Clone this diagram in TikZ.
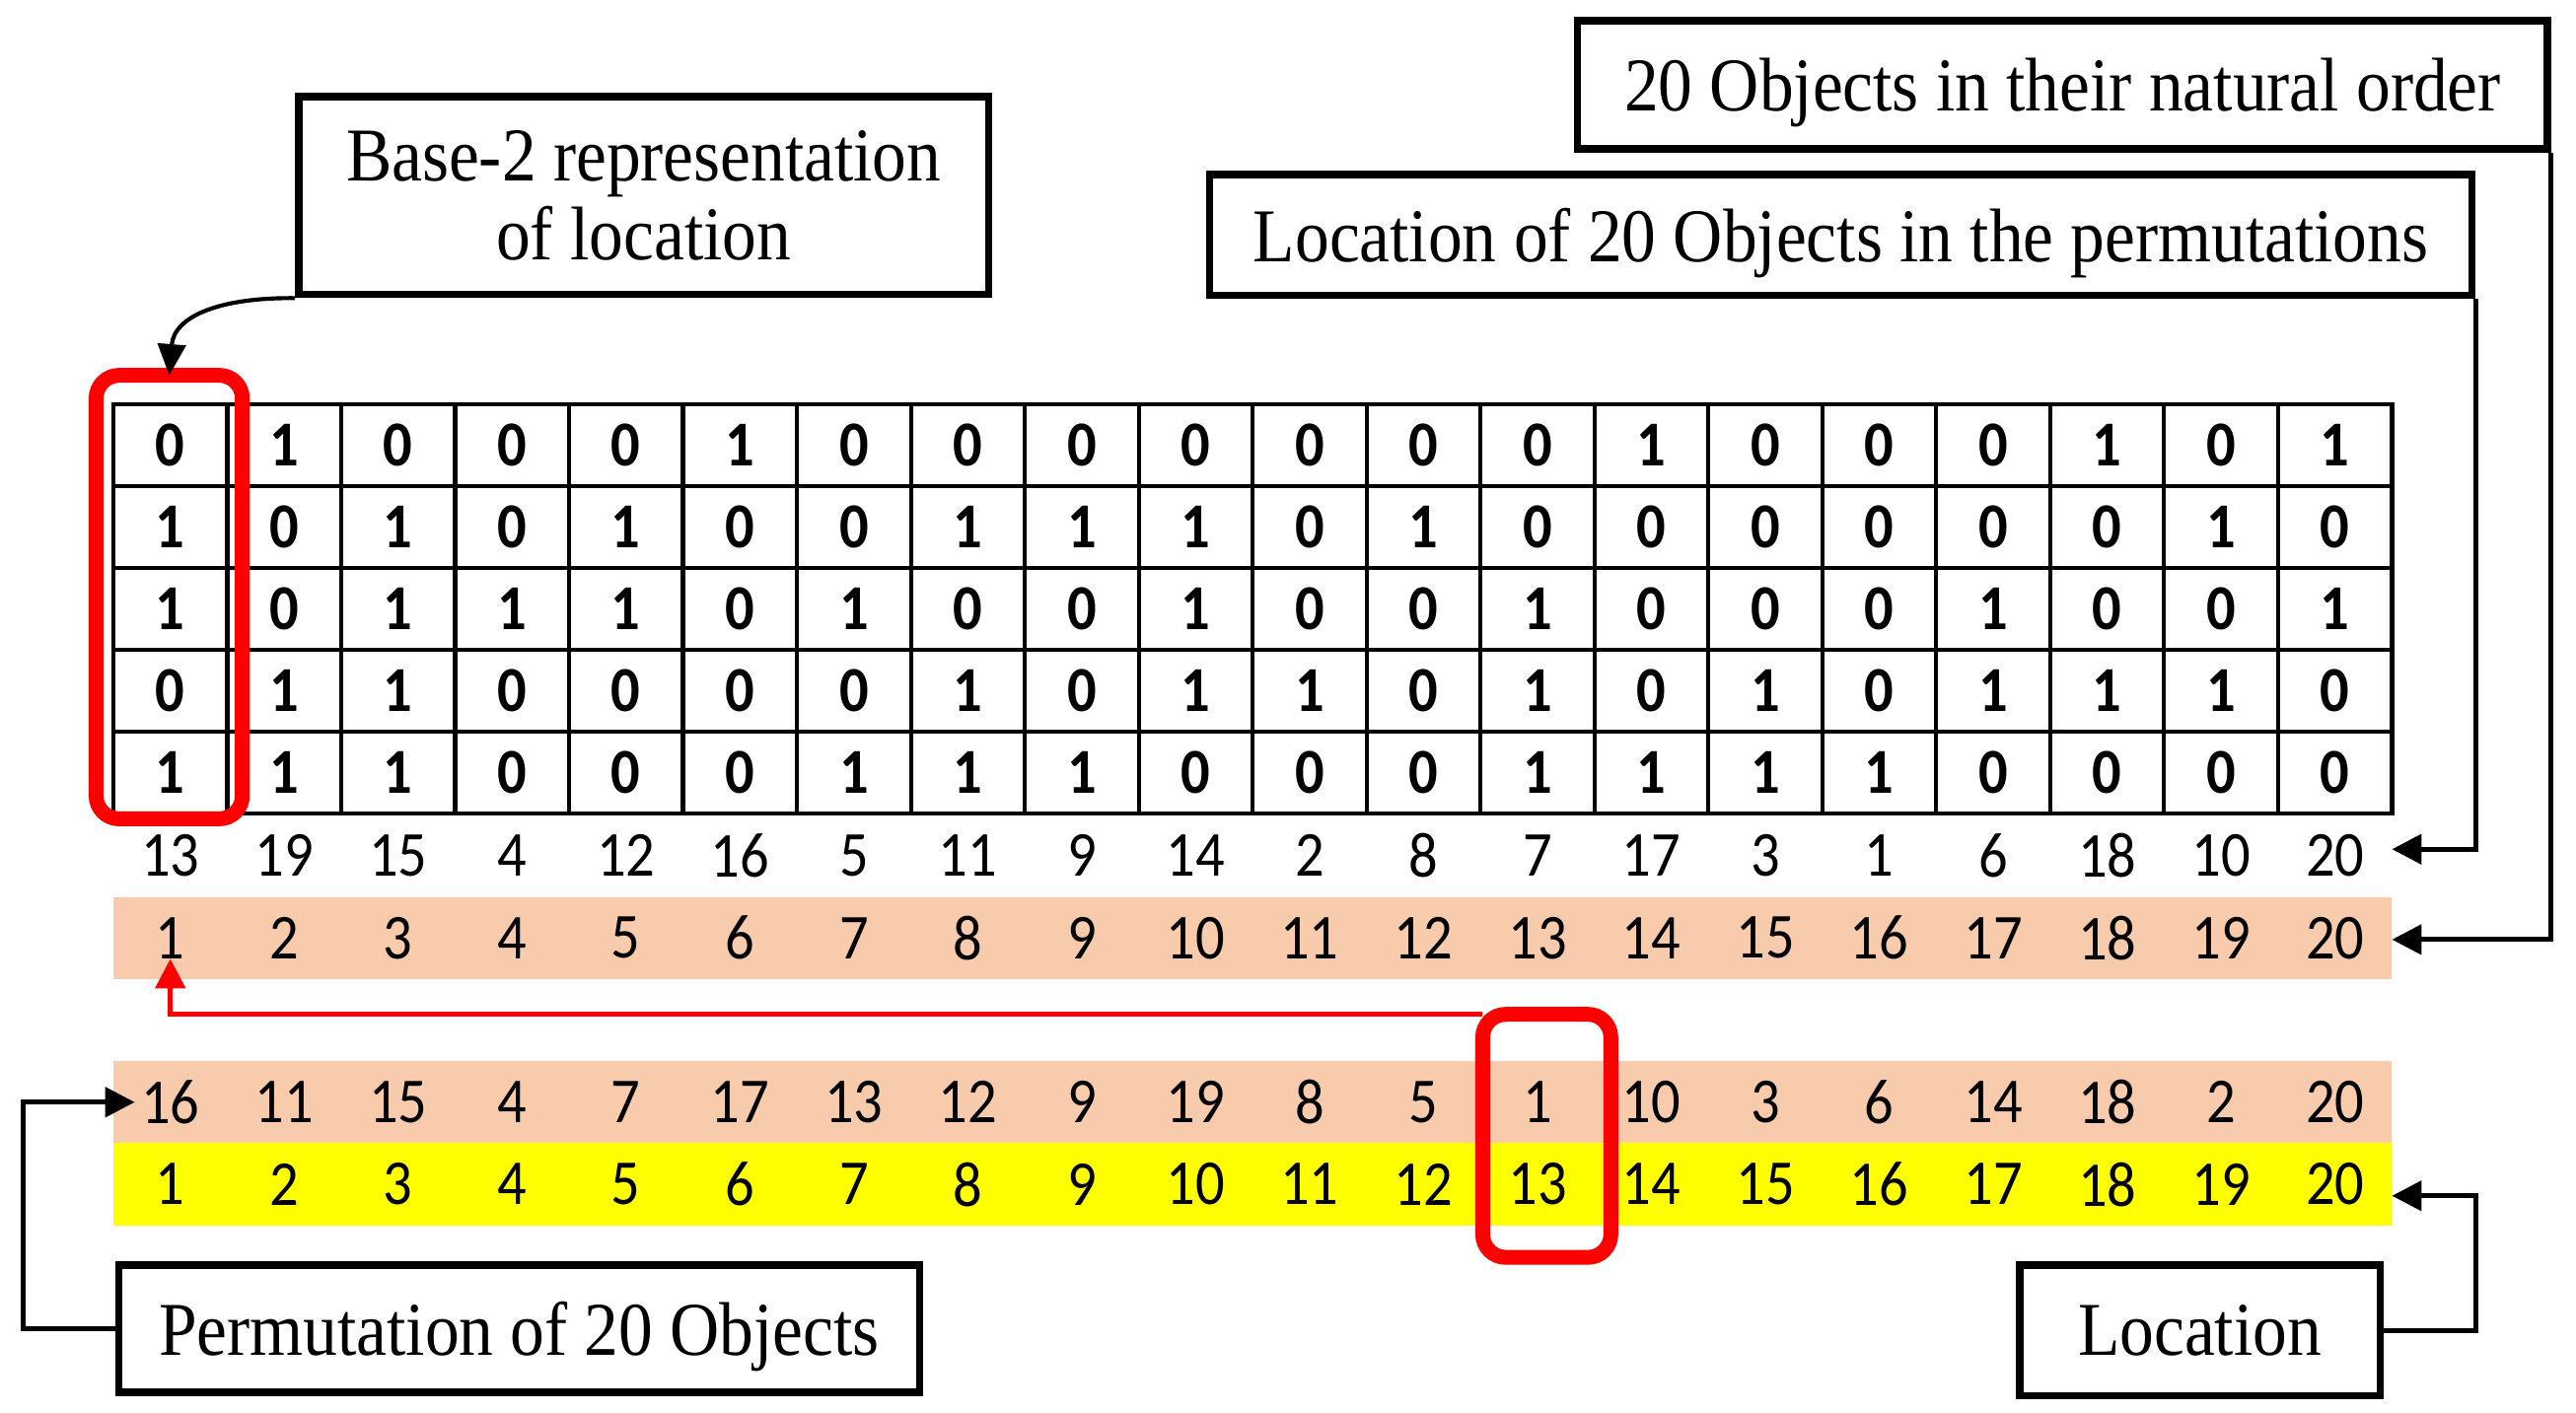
\documentclass[tikz,border=0pt]{standalone}
\usepackage{fontspec}
\setmainfont{Liberation Serif}[FakeStretch=0.9]
\newfontfamily\calf{Carlito}[FakeStretch=0.9]
\usetikzlibrary{arrows.meta}
\definecolor{peach}{HTML}{F8CBAD}
\definecolor{hiyel}{HTML}{FFFF00}
\definecolor{hired}{HTML}{FF0000}
\begin{document}
\begin{tikzpicture}[x=1pt,y=-1pt,
  txtbox/.style={draw, line width=4.5pt, inner sep=0pt, align=center, font=\fontsize{46.3}{48}\selectfont},
  onebox/.style={txtbox, text depth=0pt},
  bitnum/.style={inner sep=0pt, font=\calf\bfseries\fontsize{39}{39}\selectfont},
  num/.style={inner sep=0pt, font=\calf\fontsize{39}{39}\selectfont},
  conn/.style={line width=3pt, -{Triangle[length=18pt,width=18pt]}},
  curveconn/.style={line width=2.5pt, -{Triangle[length=19pt,width=17pt]}},
  redbox/.style={draw=hired, line width=9pt, rounded corners=14pt, inner sep=0pt, outer sep=0pt},
  redarr/.style={draw=hired, line width=3pt, -{Triangle[length=18pt,width=18pt]}},
  gridln/.style={line width=2.5pt, line cap=rect}
]
\useasboundingbox (0,0) rectangle (1568,860);

% coloured bands
\fill[peach] (69,546) rectangle (1456,596);
\fill[peach] (69,646) rectangle (1456,696);
\fill[hiyel] (69,696) rectangle (1456,746);

% grid lines
\foreach \k in {0,...,20} \draw[gridln] ({69+\k*69.35},246) -- ({69+\k*69.35},495);
\foreach \k in {0,...,5} \draw[gridln] (69,{246+\k*49.8}) -- (1456,{246+\k*49.8});

% bits
\foreach \vals [count=\r] in {
  {0,1,0,0,0,1,0,0,0,0,0,0,0,1,0,0,0,1,0,1},
  {1,0,1,0,1,0,0,1,1,1,0,1,0,0,0,0,0,0,1,0},
  {1,0,1,1,1,0,1,0,0,1,0,0,1,0,0,0,1,0,0,1},
  {0,1,1,0,0,0,0,1,0,1,1,0,1,0,1,0,1,1,1,0},
  {1,1,1,0,0,0,1,1,1,0,0,0,1,1,1,1,0,0,0,0}}{
  \foreach \v [count=\c] in \vals {
    \node[bitnum] (b\r-\c) at ({69+(\c-0.5)*69.35},{246+(\r-0.5)*49.8}) {\v};
  }
}

% location labels
\foreach \v [count=\c] in {13,19,15,4,12,16,5,11,9,14,2,8,7,17,3,1,6,18,10,20}
  \node[num] (l\c) at ({69+(\c-0.5)*69.35},521) {\v};
% natural order
\foreach \c in {1,...,20}
  \node[num] (n\c) at ({69+(\c-0.5)*69.35},571) {\c};
% permutation
\foreach \v [count=\c] in {16,11,15,4,7,17,13,12,9,19,8,5,1,10,3,6,14,18,2,20}
  \node[num] (p\c) at ({69+(\c-0.5)*69.35},671) {\v};
% locations
\foreach \c in {1,...,20}
  \node[num] (y\c) at ({69+(\c-0.5)*69.35},721) {\c};

% red highlight boxes
\node[redbox, minimum width=89pt, minimum height=270pt] (rb1) at (103,363.5) {};
\node[redbox, minimum width=78pt, minimum height=148pt] (rb2) at (941.5,691.5) {};

% text boxes
\node[txtbox, minimum width=420pt, minimum height=120.5pt] (base) at (391.8,119) {Base-2 representation\\of location};
\node[onebox, minimum width=590.4pt, minimum height=78pt] (nat) at (1255.5,51.7) {20 Objects in their natural order};
\node[onebox, minimum width=768.4pt, minimum height=73.4pt] (loc) at (1120.5,143) {Location of 20 Objects in the permutations};
\node[onebox, minimum width=487.4pt, minimum height=77.4pt] (perm) at (316,809) {Permutation of 20 Objects};
\node[onebox, minimum width=219.4pt, minimum height=79.4pt] (locb) at (1339,810) {Location};

% arrow targets
\coordinate (t1) at (1456,517);
\coordinate (t2) at (1456,572);
\coordinate (t3) at (82,671);
\coordinate (t4) at (1456,728);

% connectors
\draw[curveconn] (base.south west) .. controls (135,181) and (106,192) .. (rb1.north);
\draw[conn] (loc.south east) |- (t1);
\draw[conn] (nat.south east) |- (t2);
\draw[conn] (perm.west) -- ++(-56,0) |- (t3);
\draw[conn] (locb.east) -- ++(56,0) |- (t4);
\draw[redarr] (rb2.north west) -| (n1.south);
\end{tikzpicture}
\end{document}
